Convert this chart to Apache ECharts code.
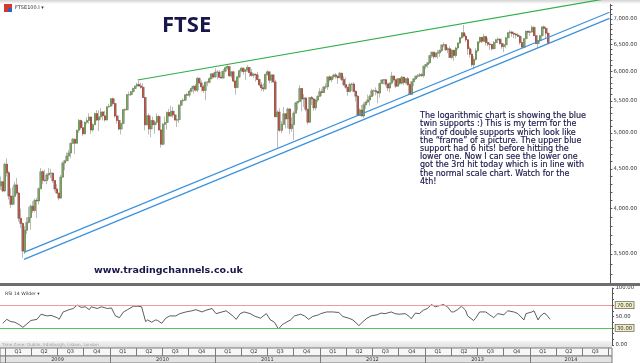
<!DOCTYPE html>
<html><head><meta charset="utf-8">
<script src="https://cdn.jsdelivr.net/npm/echarts@6/dist/echarts.min.js"></script>
<style>html,body{margin:0;padding:0;background:#fff}#c{width:640px;height:363px}</style>
</head><body><div id="c"></div>
<script>
// ---------- DATA (weekly FTSE 100, week index 0 = week of 2008-12-15) ----------
const firstWeekMid = '2008-12-17';
const opens = [
4280,4331,4216,
4561,4448,4152,4052,4149,4291,4189,3889,3830,3530,3754,3842,3898,4030,3980,4100,4093,4243,4462,4349,4346,4418,4439,4442,4346,4241,4189,4128,4391,4577,4608,4672,4716,4851,4909,4852,5042,5190,5080,4989,5162,5190,5242,5045,5125,5296,5195,5245,5322,5261,5197,5402,
5413,5534,5455,5260,5189,5060,5142,5358,5355,5599,5600,5650,5703,5744,5770,5744,5723,5553,5123,5262,5062,5188,5126,5163,5250,5046,4838,5133,5159,5313,5258,5332,5275,5195,5201,5428,5501,5508,5598,5592,5657,5703,5741,5675,5875,5797,5732,5669,5808,5808,5871,5955,
5900,5985,5985,5896,5881,6000,6062,6083,5919,5990,5828,5718,5901,6010,6055,5996,6022,6069,5976,5925,5948,5938,5855,5765,5714,5697,5945,5990,5843,5935,5815,5247,5320,5040,5130,5292,5214,5368,5067,5128,5303,5466,5488,5702,5527,5545,5362,5164,5552,5529,5387,5512,
5572,5650,5636,5728,5733,5901,5852,5905,5935,5912,5887,5965,5855,5768,5723,5651,5772,5777,5655,5575,5267,5351,5260,5435,5478,5514,5571,5663,5666,5651,5627,5787,5847,5852,5777,5711,5795,5915,5852,5742,5871,5793,5896,5806,5869,5769,5605,5819,5867,5914,5921,5940,5925,
6089,6121,6154,6284,6347,6263,6328,6335,6378,6483,6489,6393,6412,6250,6385,6286,6426,6522,6625,6723,6654,6583,6412,6308,6116,6215,6375,6544,6631,6554,6648,6529,6499,6492,6413,6532,6584,6596,6513,6453,6487,6622,6721,6735,6708,6694,6675,6651,6529,6440,6606,6751,
6731,6740,6829,6663,6510,6571,6663,6838,6810,6713];
const closes = [
4331,4216,4561,
4448,4152,4052,4149,4291,4189,3889,3830,3530,3754,3842,3898,4030,3980,4100,4093,4243,4462,4349,4346,4418,4439,4442,4346,4241,4189,4128,4391,4577,4608,4672,4716,4851,4909,4852,5042,5190,5080,4989,5162,5190,5242,5045,5125,5296,5195,5245,5322,5261,5197,5402,5413,
5534,5455,5260,5189,5060,5142,5358,5355,5599,5600,5650,5703,5744,5770,5744,5723,5553,5123,5262,5062,5188,5126,5163,5250,5046,4838,5133,5159,5313,5258,5332,5275,5195,5201,5428,5501,5508,5598,5592,5657,5703,5741,5675,5875,5797,5732,5669,5808,5808,5871,5955,5900,
5985,5985,5896,5881,6000,6062,6083,5919,5990,5828,5718,5901,6010,6055,5996,6022,6069,5976,5925,5948,5938,5855,5765,5714,5697,5945,5990,5843,5935,5815,5247,5320,5040,5130,5292,5214,5368,5067,5128,5303,5466,5488,5702,5527,5545,5362,5164,5552,5529,5387,5512,5572,
5650,5636,5728,5733,5901,5852,5905,5935,5912,5887,5965,5855,5768,5723,5651,5772,5777,5655,5575,5267,5351,5260,5435,5478,5514,5571,5663,5666,5651,5627,5787,5847,5852,5777,5711,5795,5915,5852,5742,5871,5793,5896,5806,5869,5769,5605,5819,5867,5914,5921,5940,5925,6089,
6121,6154,6284,6347,6263,6328,6335,6378,6483,6489,6393,6412,6250,6385,6286,6426,6522,6625,6723,6654,6583,6412,6308,6116,6215,6375,6544,6631,6554,6648,6529,6499,6492,6413,6532,6584,6596,6513,6453,6487,6622,6721,6735,6708,6694,6675,6651,6529,6440,6606,6751,6731,
6740,6829,6663,6510,6571,6663,6838,6810,6713,6527];
const highs = [
4400,4340,4580,
4640,4470,4250,4270,4330,4380,4200,4000,3840,3800,3900,4020,4050,4090,4120,4130,4260,4510,4480,4490,4440,4510,4500,4450,4350,4300,4190,4420,4600,4620,4720,4760,4860,4930,4920,5050,5210,5200,5180,5170,5240,5300,5250,5150,5310,5350,5350,5380,5330,5340,5410,5450,
5540,5550,5520,5280,5210,5160,5370,5380,5610,5650,5660,5720,5750,5800,5830,5800,5790,5560,5400,5300,5220,5250,5180,5300,5270,5060,5150,5250,5330,5370,5420,5400,5330,5230,5440,5510,5540,5600,5630,5680,5740,5760,5780,5900,5890,5840,5770,5820,5830,5900,5960,5980,
6050,6020,6020,6010,6040,6090,6110,6090,6000,6000,5840,5920,6030,6070,6060,6040,6110,6070,6040,5970,5960,5990,5870,5810,5790,5960,6020,5990,5940,5950,5850,5350,5380,5180,5400,5300,5390,5380,5240,5330,5480,5500,5760,5710,5610,5560,5370,5560,5580,5540,5530,5590,
5710,5700,5740,5790,5910,5930,5910,5960,5970,5920,5990,5970,5910,5890,5730,5800,5800,5810,5670,5590,5380,5430,5470,5490,5600,5600,5700,5690,5720,5660,5800,5860,5860,5860,5800,5800,5990,5920,5860,5880,5880,5920,5900,5880,5900,5790,5820,5880,5920,5950,5970,5970,6100,
6130,6160,6290,6350,6350,6340,6390,6400,6490,6530,6500,6440,6460,6400,6390,6450,6530,6630,6730,6876,6700,6590,6450,6400,6270,6420,6550,6640,6640,6700,6660,6620,6520,6500,6560,6600,6630,6610,6530,6500,6640,6740,6780,6760,6740,6720,6710,6660,6560,6620,6760,6760,
6770,6870,6850,6680,6580,6680,6850,6870,6840,6720];
const lows = [
4230,4200,4200,
4400,4110,4010,4040,4050,4170,3850,3780,3460,3500,3710,3830,3760,3950,3960,3890,4050,4240,4300,4330,4300,4360,4380,4320,4210,4180,4100,4120,4380,4480,4600,4600,4640,4840,4700,4850,5000,5050,4960,4980,5130,5140,4990,5020,5120,5180,5030,5200,5190,5170,5190,5390,
5410,5420,5230,5140,5040,4980,5130,5250,5350,5560,5580,5600,5660,5710,5740,5700,5550,5040,5120,4980,4940,5100,4990,5150,5040,4790,4820,5120,5050,5250,5250,5230,5190,5090,5150,5400,5460,5500,5530,5560,5640,5620,5650,5640,5780,5650,5630,5510,5740,5790,5860,5880,
5890,5860,5880,5870,5880,5980,6020,5900,5880,5810,5600,5710,5880,5980,5940,5850,5990,5900,5910,5880,5820,5850,5740,5660,5650,5690,5920,5790,5800,5800,5240,4790,5020,5000,5120,5070,5070,4990,5020,4900,5300,5350,5480,5330,5400,5330,5130,5160,5430,5340,5350,5480,
5570,5580,5630,5690,5680,5820,5810,5860,5870,5780,5880,5830,5740,5700,5580,5640,5660,5640,5490,5260,5260,5250,5230,5370,5460,5420,5560,5580,5590,5460,5550,5780,5770,5740,5660,5640,5770,5820,5710,5740,5760,5770,5760,5780,5750,5600,5600,5740,5850,5880,5900,5900,5890,
6040,6060,6130,6240,6220,6250,6230,6260,6350,6440,6370,6330,6240,6220,6190,6250,6390,6500,6600,6630,6540,6300,6250,6080,6030,6190,6340,6510,6520,6540,6470,6460,6390,6380,6400,6520,6520,6490,6410,6350,6420,6600,6680,6640,6620,6610,6640,6490,6430,6420,6600,6700,
6660,6730,6660,6500,6410,6550,6650,6760,6620,6500];

// RSI(14, Wilder): week index -> value
const rsiWeeks = [1,3,5,7,9,11,13,15,18,20,23,25,28,29,31,34,36,38,40,42,44,45,48,50,53,55,57,59,61,63,66,68,70,72,73,75,77,78,80,82,84,87,89,92,95,97,100,102,105,107,110,112,115,117,119,121,124,126,129,132,134,136,138,140,141,144,146,149,151,153,155,158,
159,162,165,168,170,173,175,178,180,182,184,187,189,191,194,196,198,201,203,204,206,208,210,212,214,216,217,220,222,224,225,227,229,231,232,235,236,238,241,243,245,247,250,252,255,257,260,261,264,265,267,268,270,271,273];
const rsiValues = [38,45,41,40,36,31,37,43,45,54,51,52,48,45,58,62,64,70,66,67,62,67,64,67,64,65,51,48,58,62,68,68,67,41,44,40,44,43,38,47,51,51,55,58,60,62,58,61,64,55,58,60,52,45,55,58,55,51,47,55,44,40,28,36,38,44,51,54,51,45,50,53,
55,58,58,57,50,47,44,34,41,47,51,53,56,55,58,55,54,55,50,46,56,55,61,64,71,67,68,71,67,58,58,62,68,61,51,43,47,58,58,53,48,55,53,60,58,55,44,55,58,60,44,50,56,54,45];

// trend lines drawn by the author [date, value]
const greenLineDates = ['2010-04-09','2014-10-12'];
const greenLineValues = [5847, 7445];
const blueUpperDates = ['2009-03-08','2014-10-12'];
const blueUpperValues = [3517, 7140];
const blueLowerDates = ['2009-03-08','2014-10-12'];
const blueLowerValues = [3445, 7014];

const priceLabels = [3500,4000,4500,5000,5500,6000,6500,7000];
const rsiLabels = [0,30,50,70,100];
const rsiLevels = [70,30];

// ---------- CHART ----------
const DAY = 86400000;
const w0 = Date.parse(firstWeekMid);
const weekTime = i => w0 + i * 7 * DAY;
const xMin = Date.UTC(2008, 11, 14, 9);
const xMax = xMin + 2129 * DAY;

const candleData = closes.map((c, i) => [weekTime(i), opens[i], c, lows[i], highs[i]]);
const bodyData = closes.map((c, i) => [weekTime(i), opens[i], c, Math.min(opens[i], c), Math.max(opens[i], c)]);
const rsiData = rsiWeeks.map((w, k) => [weekTime(w), rsiValues[k]]);
const pair = (d, v) => d.map((s, k) => [Date.parse(s), v[k]]);

const priceTicks = [];
for (let v = 3300; v <= 7400; v += 100) priceTicks.push(v);
const rsiTicks = [];
for (let v = 0; v <= 100; v += 10) rsiTicks.push(v);

const quarterBounds = [], quarterMids = [], yearBounds = [], yearMids = [];
for (let y = 2009; y <= 2014; y++) {
  yearBounds.push(Date.UTC(y, 0, 1));
  for (let q = 0; q < 4; q++) {
    const b = Date.UTC(y, q * 3, 1), e = Date.UTC(y, q * 3 + 3, 1);
    if (b <= xMax) quarterBounds.push(b);
    if (e <= xMax) quarterMids.push((b + e) / 2);
  }
  const ye = Math.min(Date.UTC(y + 1, 0, 1), xMax);
  yearMids.push((Date.UTC(y, 0, 1) + ye) / 2);
}

const fmtPrice = v => Number(v).toLocaleString('en-US', {minimumFractionDigits: 2, maximumFractionDigits: 2});
const navy = '#18164a';
const small = 'DejaVu Sans';

const chart = echarts.init(document.getElementById('c'), null, {renderer: 'canvas'});
chart.setOption({
  animation: false,
  backgroundColor: '#ffffff',
  grid: [
    {left: 0, right: 28, top: 0, height: 283},
    {left: 0, right: 28, top: 288, height: 57},
    {left: 0, right: 28, top: 348, height: 8, show: true, backgroundColor: '#f7f7f7', borderColor: '#7c7c7c', borderWidth: 1, z: 20},
    {left: 0, right: 28, top: 356, height: 7, show: true, backgroundColor: '#e3e3e3', borderColor: '#7c7c7c', borderWidth: 1, z: 20}
  ],
  xAxis: [
    {type: 'value', gridIndex: 0, min: xMin, max: xMax, show: false},
    {type: 'value', gridIndex: 1, min: xMin, max: xMax, show: false},
    {type: 'value', gridIndex: 2, min: xMin, max: xMax, position: 'top', z: 21,
      axisLine: {show: false}, axisTick: {show: false, customValues: quarterBounds},
      splitLine: {show: true, lineStyle: {color: '#7c7c7c', width: 1}},
      axisLabel: {customValues: quarterMids, inside: true, margin: 1.5, fontSize: 5, fontFamily: small, color: '#333',
        formatter: v => 'Q' + (Math.floor(new Date(v).getUTCMonth() / 3) + 1)}},
    {type: 'value', gridIndex: 3, min: xMin, max: xMax, position: 'top', z: 21,
      axisLine: {show: false}, axisTick: {show: false, customValues: yearBounds},
      splitLine: {show: true, lineStyle: {color: '#7c7c7c', width: 1}},
      axisLabel: {customValues: yearMids, inside: true, margin: 1, fontSize: 5, fontFamily: small, color: '#333',
        formatter: v => String(new Date(v).getUTCFullYear())}}
  ],
  yAxis: [
    {type: 'log', logBase: 10, gridIndex: 0, position: 'right', min: 3212.9, max: 7403.6,
      axisLine: {show: true, lineStyle: {color: '#555', width: 1}},
      axisTick: {show: true, customValues: priceTicks, length: 2.5, lineStyle: {color: '#555'}},
      splitLine: {show: false},
      axisLabel: {customValues: priceLabels, formatter: fmtPrice, fontSize: 5.3, fontFamily: small, color: '#333', margin: 3.5}},
    {type: 'value', gridIndex: 1, position: 'right', min: 0, max: 100,
      axisLine: {show: true, lineStyle: {color: '#555', width: 1}},
      axisTick: {show: true, customValues: rsiTicks, length: 2, lineStyle: {color: '#555'}},
      splitLine: {show: false},
      axisLabel: {customValues: rsiLabels, fontSize: 5.3, fontFamily: small, color: '#333', margin: 3.5,
        formatter: v => (v === 70 || v === 30) ? '{b|' + v.toFixed(2) + '}' : v.toFixed(2),
        rich: {b: {fontSize: 5.3, fontFamily: small, color: '#333', backgroundColor: '#f1edc4', borderColor: '#555', borderWidth: 0.7, padding: [1, 1.5, 0.5, 1.5]}}}},
    {type: 'value', gridIndex: 2, show: false},
    {type: 'value', gridIndex: 3, show: false}
  ],
  series: [
    {type: 'candlestick', name: 'wicks', xAxisIndex: 0, yAxisIndex: 0, barWidth: 2.4, silent: true,
      encode: {x: 0, y: [1, 2, 3, 4]}, data: candleData,
      itemStyle: {color: '#e2e2e2', color0: '#e2e2e2', borderColor: '#a9a9a9', borderColor0: '#a9a9a9', borderWidth: 0.8}},
    {type: 'candlestick', name: 'bodies', xAxisIndex: 0, yAxisIndex: 0, barWidth: 1.5, silent: true,
      encode: {x: 0, y: [1, 2, 3, 4]}, data: bodyData,
      itemStyle: {color: '#5e8c3d', color0: '#a13222', borderColor: '#5e8c3d', borderColor0: '#a13222', borderWidth: 0.5}},
    {type: 'line', xAxisIndex: 0, yAxisIndex: 0, data: pair(greenLineDates, greenLineValues), symbol: 'none', silent: true,
      lineStyle: {color: '#2fae48', width: 1.2}, z: 5},
    {type: 'line', xAxisIndex: 0, yAxisIndex: 0, data: pair(blueUpperDates, blueUpperValues), symbol: 'none', silent: true,
      lineStyle: {color: '#3b91dc', width: 1.2}, z: 5},
    {type: 'line', xAxisIndex: 0, yAxisIndex: 0, data: pair(blueLowerDates, blueLowerValues), symbol: 'none', silent: true,
      lineStyle: {color: '#3b91dc', width: 1.2}, z: 5},
    {type: 'line', xAxisIndex: 1, yAxisIndex: 1, data: rsiData, symbol: 'none', silent: true,
      lineStyle: {color: '#333', width: 0.8},
      markLine: {symbol: 'none', silent: true, label: {show: false},
        data: [{yAxis: rsiLevels[0], lineStyle: {color: '#f19c98', width: 1, type: 'solid'}},
               {yAxis: rsiLevels[1], lineStyle: {color: '#5cc25c', width: 1, type: 'solid'}}]}}
  ],
  graphic: [
    {type: 'rect', shape: {x: 0, y: 0, width: 640, height: 4}, z: 1,
      style: {fill: new echarts.graphic.LinearGradient(0, 0, 0, 1, [{offset: 0, color: '#d4d4d4'}, {offset: 1, color: '#ffffff'}])}},
    {type: 'rect', shape: {x: 4, y: 4, width: 8, height: 8}, z: 30, style: {fill: '#d23b2b'}},
    {type: 'rect', shape: {x: 8, y: 8, width: 4, height: 4}, z: 31, style: {fill: '#2f62c4'}},
    {type: 'text', x: 15, y: 8, z: 30, style: {text: 'FTSE100.I ▾', fontSize: 5, fontFamily: small, fill: '#333', verticalAlign: 'middle'}},
    {type: 'rect', shape: {x: 0, y: 283, width: 640, height: 3}, z: 30, style: {fill: '#6e6e6e'}},
    {type: 'text', x: 5, y: 294, z: 30, style: {text: 'RSI 14 Wilder ▾', fontSize: 4.6, fontFamily: small, fill: '#333', verticalAlign: 'middle'}},
    {type: 'rect', shape: {x: 0, y: 341, width: 612, height: 7}, z: 15,
      style: {fill: new echarts.graphic.LinearGradient(0, 0, 0, 1, [{offset: 0, color: '#f4f4f4'}, {offset: 1, color: '#dedede'}])}},
    {type: 'text', x: 2, y: 345, z: 30, style: {text: 'Time Zone: Dublin, Edinburgh, Lisbon, London', fontSize: 4.2, fontFamily: small, fill: '#a0a0a0', verticalAlign: 'middle'}},
    {type: 'text', x: 162, y: 26, z: 30, style: {text: 'FTSE', fontSize: 22, fontWeight: 'bold', fontFamily: 'Open Sans', fill: navy, verticalAlign: 'middle'}},
    {type: 'text', x: 420, y: 112, z: 30, style: {
      text: 'The logarithmic chart is showing the blue\ntwin supports :) This is my term for the\nkind of double supports which look like\nthe \u201cframe\u201d of a picture. The upper blue\nsupport had 6 hits! before hitting the\nlower one. Now I can see the lower one\ngot the 3rd hit today which is in line with\nthe normal scale chart. Watch for the\n4th!',
      fontSize: 8, lineHeight: 8.2, fontFamily: small, fill: navy, stroke: navy, lineWidth: 0.15, verticalAlign: 'top'}},
    {type: 'text', x: 94, y: 271, z: 30, style: {text: 'www.tradingchannels.co.uk', fontSize: 9.5, fontWeight: 'bold', fontFamily: small, fill: navy, verticalAlign: 'middle'}}
  ]
});
</script>
</body></html>
